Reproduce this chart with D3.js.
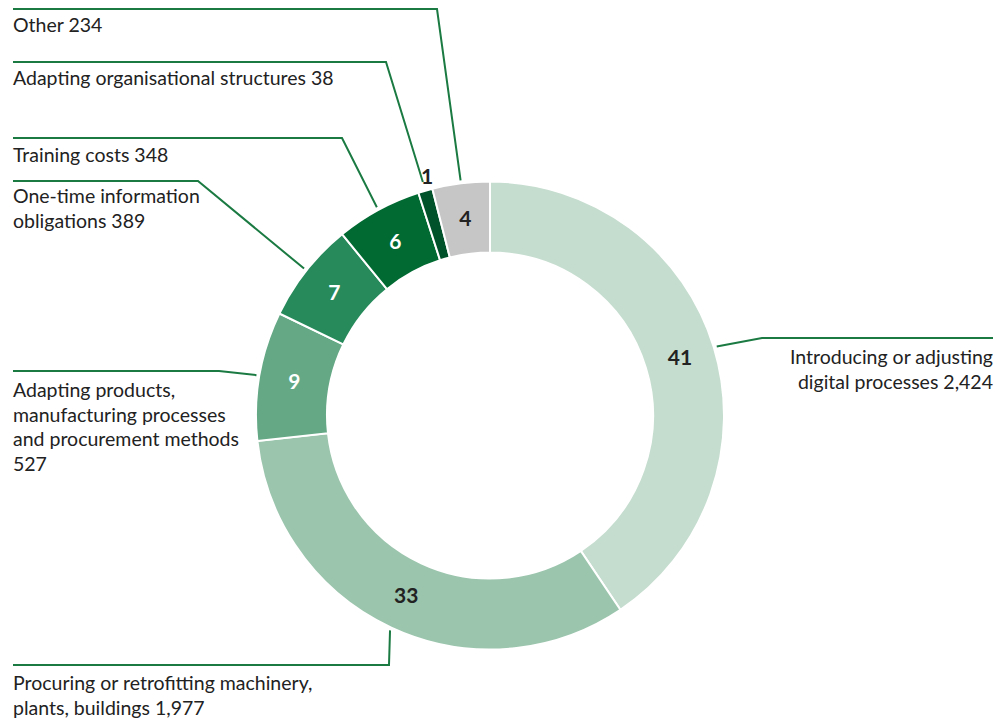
<!DOCTYPE html>
<html>
<head>
<meta charset="utf-8">
<script src="https://cdn.jsdelivr.net/npm/d3@7"></script>
<style>
  body { margin: 0; background: #fff; }
  text { font-family: Lato, "Open Sans", sans-serif; }
</style>
</head>
<body>
<script>
// data, clockwise from 12 o'clock
var categories = [
  "Introducing or adjusting digital processes",
  "Procuring or retrofitting machinery, plants, buildings",
  "Adapting products, manufacturing processes and procurement methods",
  "One-time information obligations",
  "Training costs",
  "Adapting organisational structures",
  "Other"
];
var values = [2424, 1977, 527, 389, 348, 38, 234];
// rounded shares in percent, the ring is drawn from these
var percents = [41, 33, 9, 7, 6, 1, 4];
// label text broken into lines as in the original
var labelLines = [
  ["Introducing or adjusting", "digital processes 2,424"],
  ["Procuring or retrofitting machinery,", "plants, buildings 1,977"],
  ["Adapting products,", "manufacturing processes", "and procurement methods", "527"],
  ["One-time information", "obligations 389"],
  ["Training costs 348"],
  ["Adapting organisational structures 38"],
  ["Other 234"]
];

var colors = ["#c5ddcf", "#9bc5ad", "#64a885", "#268a5b", "#006a32", "#00522a", "#c6c6c6"];
var darkText = [true, true, false, false, false, true, true];

// leader layout: horizontal line y, elbow x, line start x, text anchor, first baseline
var layout = [
  { ly: 338, ex: 762, sx: 993, anchor: "end", tx: 993, ty: 364 },
  { ly: 665, ex: 389, sx: 13, anchor: "start", tx: 13, ty: 690 },
  { ly: 371, ex: 219, sx: 13, anchor: "start", tx: 13, ty: 397 },
  { ly: 181, ex: 198, sx: 13, anchor: "start", tx: 13, ty: 203 },
  { ly: 138, ex: 342, sx: 13, anchor: "start", tx: 13, ty: 162 },
  { ly: 62, ex: 386, sx: 13, anchor: "start", tx: 13, ty: 85 },
  { ly: 9, ex: 437, sx: 13, anchor: "start", tx: 13, ty: 32 }
];

var width = 1008, height = 722;
var cx = 490, cy = 415.5;
var outerR = 234, innerR = 163;
var lineColor = "#1a7a42";

var svg = d3.select("body").append("svg")
  .attr("width", width)
  .attr("height", height);

var g = svg.append("g").attr("transform", "translate(" + cx + "," + cy + ")");

var pie = d3.pie().sort(null).value(function (d) { return d; });
var arcs = pie(percents);

var arc = d3.arc().innerRadius(innerR).outerRadius(outerR);

g.selectAll("path.slice")
  .data(arcs)
  .enter()
  .append("path")
  .attr("class", "slice")
  .attr("d", arc)
  .attr("fill", function (d, i) { return colors[i]; })
  .attr("stroke", "#fff")
  .attr("stroke-width", 2);

function polar(r, a) {
  return [Math.sin(a) * r, -Math.cos(a) * r];
}
function isSmall(d) {
  return (d.endAngle - d.startAngle) / (2 * Math.PI) < 0.02;
}

// percent labels (tiny slice gets its label outside)
g.selectAll("text.pct")
  .data(arcs)
  .enter()
  .append("text")
  .attr("class", "pct")
  .attr("transform", function (d) {
    var mid = (d.startAngle + d.endAngle) / 2;
    var p = isSmall(d) ? polar(outerR + 15, mid) : arc.centroid(d);
    if (isSmall(d)) p[0] += 6;
    return "translate(" + p[0] + "," + p[1] + ")";
  })
  .attr("text-anchor", "middle")
  .attr("dy", "0.36em")
  .attr("font-size", "21px")
  .attr("font-weight", "bold")
  .attr("fill", function (d, i) { return darkText[i] ? "#222" : "#fff"; })
  .text(function (d, i) { return percents[i]; });

// leader lines and category labels
arcs.forEach(function (d, i) {
  var L = layout[i];
  var mid = (d.startAngle + d.endAngle) / 2;
  var p = polar(isSmall(d) ? outerR + 9 : outerR + 3, mid);
  var pts = [[L.sx, L.ly], [L.ex, L.ly], [cx + p[0], cy + p[1]]];
  svg.append("path")
    .attr("d", d3.line()(pts))
    .attr("fill", "none")
    .attr("stroke", lineColor)
    .attr("stroke-width", 2);

  var t = svg.append("text")
    .attr("x", L.tx)
    .attr("y", L.ty)
    .attr("text-anchor", L.anchor)
    .attr("font-size", "19.5px")
    .attr("fill", "#222");
  labelLines[i].forEach(function (line, j) {
    t.append("tspan")
      .attr("x", L.tx)
      .attr("y", L.ty + j * 24.5)
      .text(line);
  });
});
</script>
</body>
</html>
